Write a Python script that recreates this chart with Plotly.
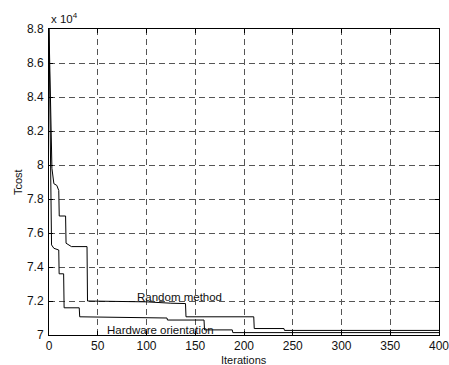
import plotly.graph_objects as go

# Iterations and Tcost values
random_iter = [0, 1, 2, 3, 5, 8, 10, 10.5, 17, 17.5, 23, 39, 39.5, 100, 125, 140, 140.5, 210, 210.5, 241, 241.5, 400]
random_cost = [88000, 84500, 81000, 79800, 78900, 78800, 78500, 77000, 77000, 75400, 75200, 75200, 72000, 71950, 71870, 71850, 71070, 71070, 70380, 70380, 70270, 70270]

hw_iter = [0, 1, 2, 2.6, 5, 10, 10.4, 15, 15.5, 31, 31.5, 80, 121, 121.5, 159, 159.5, 188, 188.5, 400]
hw_cost = [88000, 82500, 78500, 75300, 75100, 75000, 73600, 73600, 71600, 71600, 71070, 71050, 71000, 70880, 70880, 70300, 70300, 70140, 70140]

x_ticks = [0, 50, 100, 150, 200, 250, 300, 350, 400]
y_ticks = [70000, 72000, 74000, 76000, 78000, 80000, 82000, 84000, 86000, 88000]
y_tick_text = ["7", "7.2", "7.4", "7.6", "7.8", "8", "8.2", "8.4", "8.6", "8.8"]

FONT = "Liberation Sans, Arial, sans-serif"

fig = go.Figure()
fig.add_trace(go.Scatter(x=random_iter, y=random_cost, mode="lines",
                         line=dict(color="black", width=1), name="Random method"))
fig.add_trace(go.Scatter(x=hw_iter, y=hw_cost, mode="lines",
                         line=dict(color="black", width=1), name="Hardware orientation"))

axis_common = dict(
    showline=True, linecolor="black", linewidth=1, mirror="ticks",
    ticks="inside", ticklen=4, tickcolor="black",
    showgrid=True, gridcolor="#555555", gridwidth=1, griddash="6px,4px",
    zeroline=False, automargin=False, ticklabeloverflow="allow",
    tickfont=dict(family=FONT, size=12, color="#111111"),
)

fig.update_xaxes(range=[0, 400], tickvals=x_ticks, ticklabelstandoff=0, **axis_common)
fig.update_yaxes(range=[70000, 88000], tickvals=y_ticks, ticktext=y_tick_text,
                 ticklabelstandoff=2, **axis_common)

# axis titles
fig.add_annotation(xref="paper", yref="paper", x=0.5, y=0, xanchor="center", yanchor="top",
                   yshift=-17, text="Iterations", showarrow=False,
                   font=dict(family=FONT, size=11, color="#111111"))
fig.add_annotation(xref="paper", yref="paper", x=0, y=0.5, xanchor="right", yanchor="middle",
                   xshift=-23, textangle=-90, text="Tcost", showarrow=False,
                   font=dict(family=FONT, size=11, color="#111111"))

# curve labels
fig.add_annotation(x=134, y=72250, text="Random method", showarrow=False,
                   font=dict(family=FONT, size=11.5, color="#111111"))
fig.add_annotation(x=114, y=70300, text="Hardware orientation", showarrow=False,
                   font=dict(family=FONT, size=11.5, color="#111111"))
fig.add_annotation(xref="paper", yref="paper", x=0, y=1, xanchor="left", yanchor="bottom",
                   text="x 10<sup>4</sup>", showarrow=False, yshift=2,
                   font=dict(family=FONT, size=11.5, color="#111111"))

fig.update_layout(
    width=449, height=365,
    margin=dict(l=49, r=10, t=29, b=30),
    paper_bgcolor="white", plot_bgcolor="white",
    showlegend=False,
    font=dict(family=FONT, size=11, color="black"),
)

# remove the page's default 8px body margin so the figure fills the window
fig.write_html("out.html", config={"displayModeBar": False},
               post_script="document.body.style.margin='0';document.body.style.overflow='hidden';")
